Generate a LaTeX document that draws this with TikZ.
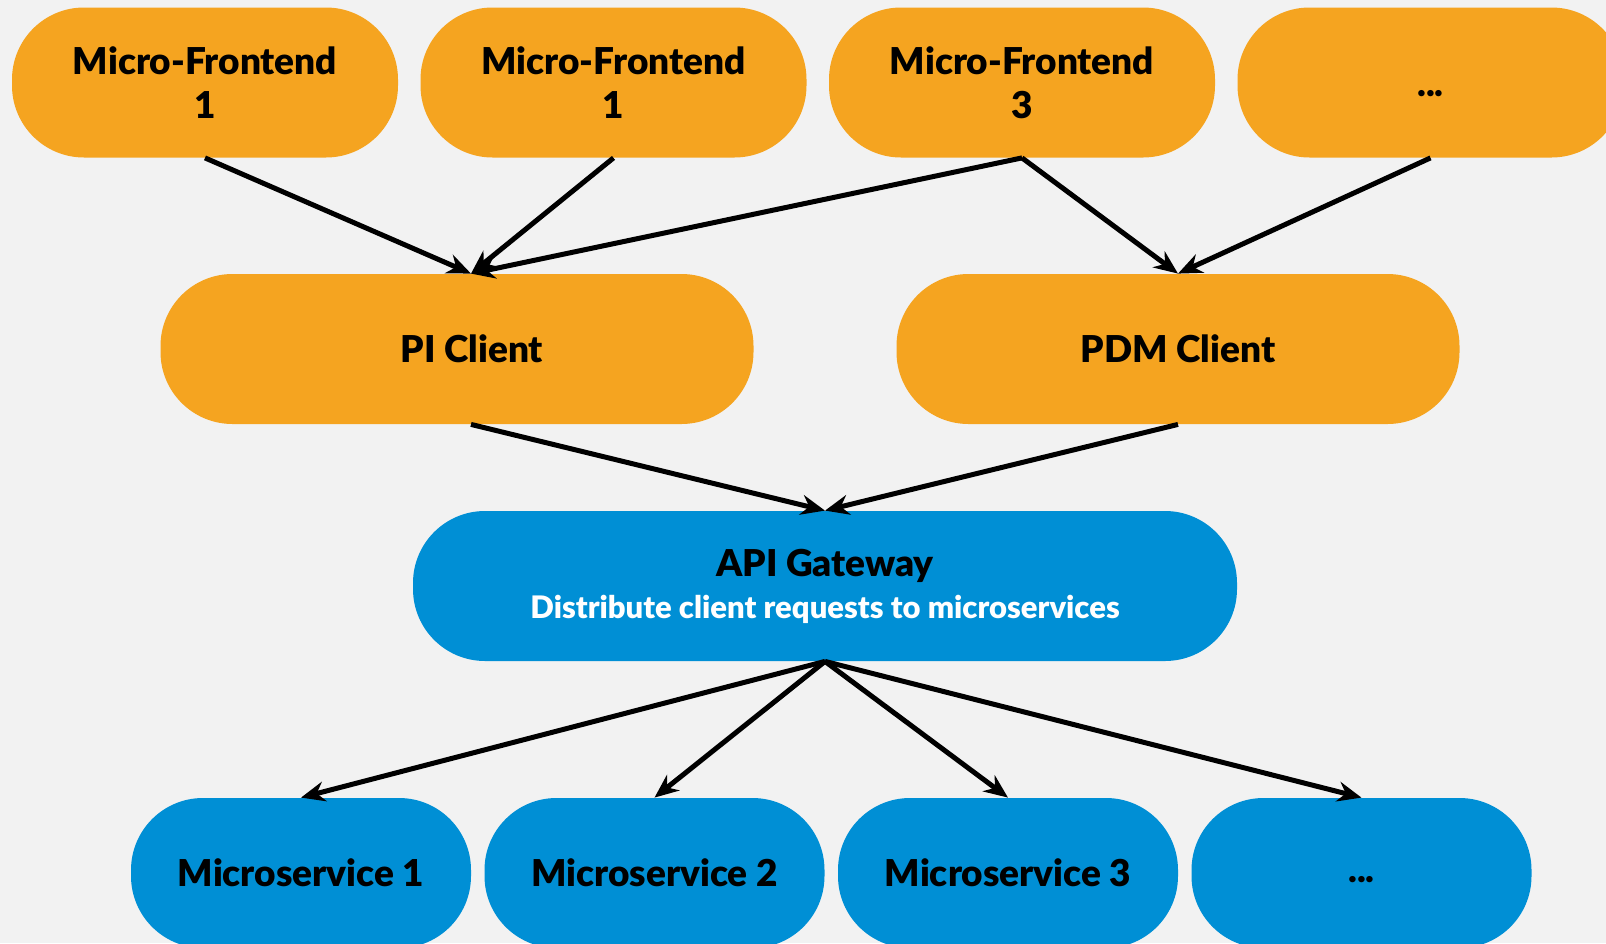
\documentclass[tikz,border=0pt]{standalone}
\usepackage{fontspec}
\setmainfont{Lato}[BoldFont={Lato Black}]
\usepackage{tikz}
\usetikzlibrary{positioning, arrows.meta}

\definecolor{feorange}{RGB}{245,164,32}
\definecolor{svcblue}{RGB}{0,143,213}
\definecolor{bggray}{RGB}{242,242,242}

\newcommand{\moredots}[1]{\smash{\raisebox{#1}{...}}}

\begin{document}
\begin{tikzpicture}[x=1pt,y=1pt,on grid,
    pill/.style={rounded corners=36pt,minimum height=75pt,inner sep=0pt,align=center,
      font=\fontsize{18.5}{22}\selectfont\bfseries},
    front/.style={pill,fill=feorange,minimum width=193pt},
    client/.style={pill,fill=feorange},
    gateway/.style={pill,fill=svcblue,minimum width=412pt},
    service/.style={pill,fill=svcblue,minimum width=170pt},
    conn/.style={-{Stealth[length=12pt,width=10pt]},line width=2.5pt}]
  \fill[bggray] (0,0) rectangle (803,-471.5);
  \useasboundingbox (0,0) rectangle (803,-471.5);

  % micro-frontends
  \node[front] (mf1) at (102.5,-41.25) {Micro-Frontend\\1};
  \node[front] (mf2) [right=204.25pt of mf1] {Micro-Frontend\\1};
  \node[front] (mf3) [right=204.25pt of mf2] {Micro-Frontend\\3};
  \node[front] (mf4) [right=204.25pt of mf3] {\moredots{-7pt}};

  % clients
  \node[client,minimum width=296.5pt] (pi) at (228.5,-174.5) {\hspace*{15pt}PI Client};
  \node[client,minimum width=281.5pt] (pdm) at (589,-174.5) {PDM Client};

  % gateway
  \node[gateway] (api) at (412.5,-293)
    {API Gateway\\[-1pt]{\fontsize{15.5}{17}\selectfont\color{white}Distribute client requests to microservices}};

  % microservices
  \node[service] (ms1) at (150.5,-436.5) {Microservice 1};
  \node[service] (ms2) [right=176.75pt of ms1] {Microservice 2};
  \node[service] (ms3) [right=176.75pt of ms2] {Microservice 3};
  \node[service] (ms4) [right=176.75pt of ms3] {\moredots{-4.5pt}};

  \draw[conn] (mf1.south) -- ([xshift=7pt]pi.north);
  \draw[conn] (mf2.south) -- ([xshift=7pt]pi.north);
  \draw[conn] (mf3.south) -- ([xshift=7pt]pi.north);
  \draw[conn] (mf3.south) -- (pdm.north);
  \draw[conn] (mf4.south) -- (pdm.north);
  \draw[conn] ([xshift=7pt]pi.south) -- (api.north);
  \draw[conn] (pdm.south) -- (api.north);
  \foreach \s in {ms1,ms2,ms3,ms4}
    \draw[conn] (api.south) -- (\s.north);
\end{tikzpicture}
\end{document}
